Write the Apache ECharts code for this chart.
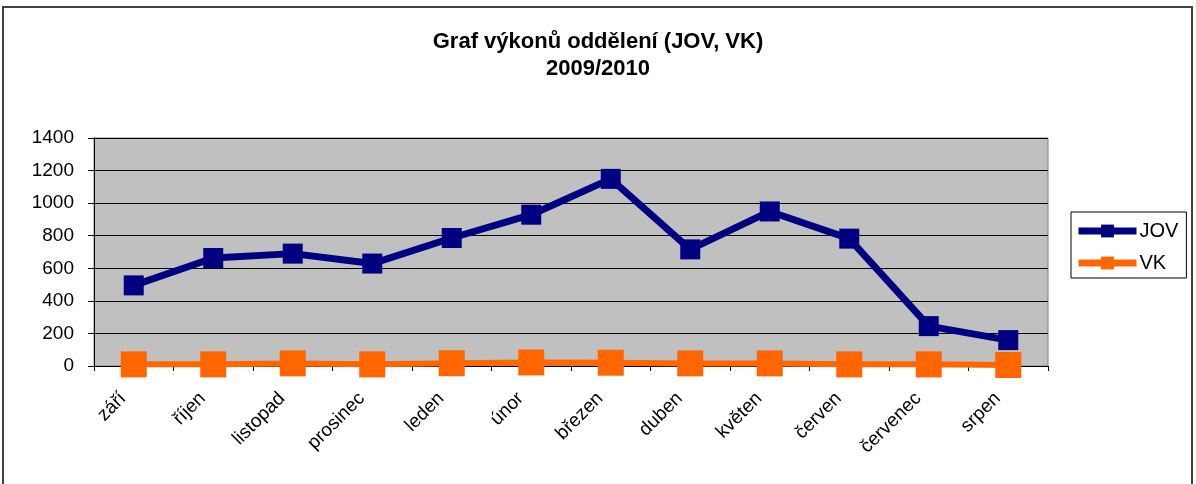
<!DOCTYPE html>
<html>
<head>
<meta charset="utf-8">
<script src="https://cdn.jsdelivr.net/npm/echarts@6/dist/echarts.min.js"></script>
<style>
  html, body { margin: 0; padding: 0; background: #fff; }
  #chart { width: 1196px; height: 484px; }
</style>
</head>
<body>
<div id="chart"></div>
<script>
// měsíce školního roku
var months = ["září", "říjen", "listopad", "prosinec", "leden", "únor",
  "březen", "duben", "květen", "červen", "červenec", "srpen"];
var jov = [495, 663, 690, 629, 786, 929, 1149, 716, 949, 782, 245, 159];
var vk = [10, 10, 16, 10, 17, 22, 20, 16, 16, 10, 10, 6];
var yTicks = [0, 200, 400, 600, 800, 1000, 1200, 1400];

var chart = echarts.init(document.getElementById("chart"));

chart.setOption({
  animation: false,
  textStyle: { fontFamily: "Liberation Sans, Arial, sans-serif" },
  title: {
    text: "Graf výkonů oddělení (JOV, VK)\n2009/2010",
    left: "center",
    top: 23,
    textStyle: {
      fontSize: 22,
      fontWeight: "bold",
      color: "#000",
      lineHeight: 27,
      fontFamily: "Liberation Sans, Arial, sans-serif"
    }
  },
  graphic: [
    {
      type: "rect",
      shape: { x: 3, y: 7, width: 1189, height: 490 },
      style: { fill: "none", stroke: "#404040", lineWidth: 2 },
      silent: true
    }
  ],
  legend: {
    orient: "vertical",
    left: 1071,
    top: 212,
    width: 117,
    padding: [9, 8, 5, 4],
    itemGap: 12,
    itemWidth: 58,
    itemHeight: 16,
    borderColor: "#000",
    borderWidth: 1,
    backgroundColor: "#fff",
    lineStyle: { width: 7 },
    textStyle: { fontSize: 20, color: "#000", padding: [0, 0, 0, -2] },
    data: ["JOV", "VK"]
  },
  grid: {
    left: 94,
    right: 148,
    top: 138,
    bottom: 118,
    show: true,
    backgroundColor: "#C0C0C0",
    borderColor: "#808080",
    borderWidth: 1
  },
  xAxis: {
    type: "category",
    data: months,
    boundaryGap: true,
    axisLine: { lineStyle: { color: "#000", width: 1 } },
    axisTick: { show: true, alignWithLabel: false, length: 5, lineStyle: { color: "#000" } },
    axisLabel: {
      rotate: 45,
      fontSize: 19,
      color: "#000",
      margin: 19,
      interval: 0,
      padding: [0, 15, 0, 0]
    }
  },
  yAxis: {
    type: "value",
    min: 0,
    max: 1400,
    interval: 200,
    axisLine: { show: true, lineStyle: { color: "#000", width: 1 } },
    axisTick: { show: true, length: 6, lineStyle: { color: "#000" } },
    axisLabel: {
      fontSize: 19,
      color: "#000",
      margin: 20,
      formatter: function (v) { return yTicks.indexOf(v) >= 0 ? String(v) : ""; }
    },
    splitLine: { show: true, lineStyle: { color: "#000", width: 1 } }
  },
  series: [
    {
      name: "JOV",
      type: "line",
      data: jov,
      symbol: "rect",
      symbolSize: 20,
      z: 3,
      lineStyle: { color: "#000080", width: 7 },
      itemStyle: { color: "#000080", borderColor: "#000080", borderWidth: 0 }
    },
    {
      name: "VK",
      type: "line",
      data: vk,
      symbol: "rect",
      symbolSize: 26,
      z: 2,
      lineStyle: { color: "#FF6600", width: 6 },
      itemStyle: { color: "#FF6600", borderColor: "#FF6600", borderWidth: 0 }
    }
  ]
});
</script>
</body>
</html>
